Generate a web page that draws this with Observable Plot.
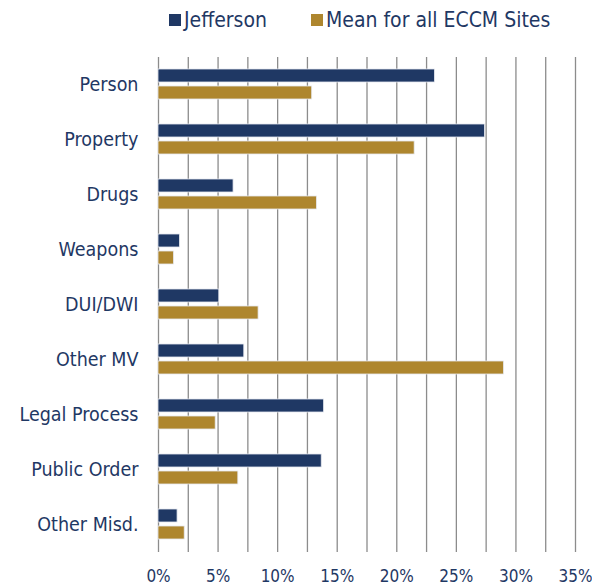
<!DOCTYPE html>
<html>
<head>
<meta charset="utf-8">
<script src="https://cdn.jsdelivr.net/npm/d3@7"></script>
<script src="https://cdn.jsdelivr.net/npm/@observablehq/plot@0.6"></script>
<style>
  body { margin: 0; background: #fff; font-family: "DejaVu Sans Condensed", "DejaVu Sans", sans-serif; color: #1f3864; }
  #legend { height: 40px; display: flex; align-items: center; padding-left: 169px; font-size: 21px; white-space: nowrap; }
  .item { display: flex; align-items: center; margin-right: 44px; flex-shrink: 0; }
  .sw { width: 12px; height: 12px; margin-right: 3px; flex-shrink: 0; }
</style>
</head>
<body>
<div id="legend"></div>
<div id="chart"></div>
<script>
const categories = ["Person", "Property", "Drugs", "Weapons", "DUI/DWI", "Other MV", "Legal Process", "Public Order", "Other Misd."];
const seriesNames = ["Jefferson", "Mean for all ECCM Sites"];
const jefferson = [23.2, 27.4, 6.3, 1.8, 5.1, 7.2, 13.9, 13.7, 1.6];
const meanAll = [12.9, 21.5, 13.3, 1.3, 8.4, 29.0, 4.8, 6.7, 2.2];
const gridTicks = [0, 2.5, 5, 7.5, 10, 12.5, 15, 17.5, 20, 22.5, 25, 27.5, 30, 32.5, 35];
const labelTicks = [0, 5, 10, 15, 20, 25, 30, 35];
const colors = ["#1f3864", "#ae862e"];

const data = categories.flatMap((c, i) => [
  {category: c, series: seriesNames[0], value: jefferson[i]},
  {category: c, series: seriesNames[1], value: meanAll[i]}
]);

const legend = document.getElementById("legend");
seriesNames.forEach((s, i) => {
  const it = document.createElement("div");
  it.className = "item";
  it.innerHTML = `<span class="sw" style="background:${colors[i]}"></span><span>${s}</span>`;
  legend.appendChild(it);
});

const chart = Plot.plot({
  width: 592,
  height: 545,
  marginLeft: 158,
  marginRight: 17,
  marginTop: 15,
  marginBottom: 32,
  style: {fontFamily: '"DejaVu Sans Condensed", "DejaVu Sans", sans-serif', color: "#1f3864", background: "#fff"},
  x: {domain: [0, 35], label: null},
  y: {domain: seriesNames, paddingInner: 0.22, paddingOuter: 0.65, axis: null},
  fy: {domain: categories, padding: 0, label: null, axis: null},
  color: {domain: seriesNames, range: colors},
  marks: [
    Plot.gridX(gridTicks, {stroke: "#8c8c8c", strokeOpacity: 1, strokeWidth: 1.3}),
    Plot.barX(data, {x: "value", y: "series", fy: "category", fill: "series", stroke: "#e6e9ef", strokeWidth: 0.8, insetTop: 0, insetBottom: 0}),
    Plot.axisX(labelTicks, {anchor: "bottom", tickSize: 0, tickPadding: 17, tickFormat: d => d + "%", fontSize: 17}),
    Plot.axisFy({anchor: "left", tickSize: 0, tickPadding: 20, label: null, fontSize: 19.5})
  ]
});
document.getElementById("chart").appendChild(chart);
</script>
</body>
</html>
